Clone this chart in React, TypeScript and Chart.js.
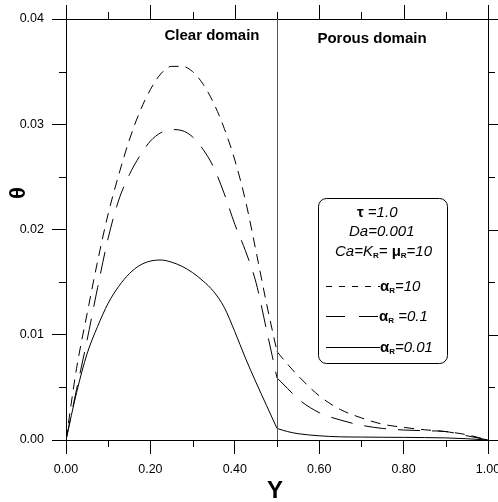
import React, { useEffect, useRef } from "react";
import { Chart, registerables } from "chart.js";

Chart.register(...registerables);

// ---- data ----
// clear domain positions (0 .. 0.5) and porous domain positions (0.5 .. 1.0)
const Y_CLEAR = [
  0, 0.025, 0.05, 0.075, 0.1, 0.125, 0.15, 0.175, 0.2, 0.225, 0.25, 0.275, 0.3, 0.325, 0.35, 0.375, 0.4,
  0.425, 0.45, 0.475, 0.5,
];
const Y_POROUS = [0.5, 0.525, 0.55, 0.6, 0.65, 0.7, 0.75, 0.8, 0.85, 0.9, 0.95, 1.0];

const THETA_A10_CLEAR = [
  0, 0.0068, 0.012, 0.017, 0.0215, 0.0252, 0.0285, 0.0312, 0.0333, 0.0348, 0.0355, 0.0355, 0.035, 0.0338,
  0.032, 0.0296, 0.0266, 0.0228, 0.018, 0.013, 0.0084,
];
const THETA_A10_POROUS = [0.0084, 0.0072, 0.0061, 0.0042, 0.0029, 0.0021, 0.0015, 0.0012, 0.00097, 0.0008, 0.0005, 0];

const THETA_A01_CLEAR = [
  0, 0.0048, 0.0095, 0.0145, 0.0192, 0.0228, 0.0252, 0.027, 0.0284, 0.0292, 0.0295, 0.0294, 0.0288, 0.0276,
  0.0259, 0.0234, 0.0205, 0.018, 0.015, 0.0105, 0.0059,
];
const THETA_A01_POROUS = [0.0059, 0.0049, 0.0039, 0.0026, 0.0019, 0.0014, 0.0011, 0.00095, 0.00088, 0.0008, 0.0004, 0];

const THETA_A001_CLEAR = [
  0, 0.0045, 0.0082, 0.0108, 0.013, 0.0146, 0.0158, 0.0166, 0.017, 0.0171, 0.0169, 0.0165, 0.0159, 0.0151,
  0.0141, 0.0126, 0.0103, 0.0078, 0.0055, 0.0033, 0.0011,
];
const THETA_A001_POROUS = [0.0011, 0.0008, 0.0006, 0.0004, 0.0003, 0.00028, 0.00026, 0.00025, 0.00023, 0.0002, 0.00012, 0];

const X_TICK_VALUES = [0, 0.2, 0.4, 0.6, 0.8, 1.0];
const X_TICK_LABELS = ["0.00", "0.20", "0.40", "0.60", "0.80", "1.00"];
const X_MINOR = [0.1, 0.3, 0.5, 0.7, 0.9];
const Y_TICK_VALUES = [0, 0.01, 0.02, 0.03, 0.04];
const Y_TICK_LABELS = ["0.00", "0.01", "0.02", "0.03", "0.04"];
const Y_MINOR = [0.005, 0.015, 0.025, 0.035];
const INTERFACE_Y = 0.5;

const FAMILY = 'Arial, "Liberation Sans", sans-serif';

type Run = { t: string; f: string; dy?: number };

function drawRuns(ctx: CanvasRenderingContext2D, x: number, y: number, runs: Run[]) {
  let cx = x;
  for (const r of runs) {
    ctx.font = r.f;
    ctx.fillText(r.t, cx, y + (r.dy || 0));
    cx += ctx.measureText(r.t).width;
  }
}

const decorPlugin = {
  id: "decor",
  afterDraw(chart: any) {
    const ctx: CanvasRenderingContext2D = chart.ctx;
    const { left, right, top, bottom } = chart.chartArea;
    const xs = chart.scales.x;
    const ys = chart.scales.y;
    ctx.save();
    ctx.strokeStyle = "#000";
    ctx.fillStyle = "#000";
    ctx.lineWidth = 1;
    const al = (v: number) => Math.round(v) + 0.5;
    ctx.beginPath();
    ctx.moveTo(left, al(top));
    ctx.lineTo(right + 0.5, al(top));
    ctx.moveTo(al(right), top);
    ctx.lineTo(al(right), bottom);
    for (const v of X_TICK_VALUES) {
      const px = al(xs.getPixelForValue(v));
      ctx.moveTo(px, top);
      ctx.lineTo(px, top - 14);
    }
    for (const v of X_MINOR) {
      const px = al(xs.getPixelForValue(v));
      ctx.moveTo(px, top);
      ctx.lineTo(px, top - 7);
      ctx.moveTo(px, bottom);
      ctx.lineTo(px, bottom + 7);
    }
    for (const v of Y_TICK_VALUES) {
      const py = al(ys.getPixelForValue(v));
      ctx.moveTo(right, py);
      ctx.lineTo(right + 14, py);
    }
    for (const v of Y_MINOR) {
      const py = al(ys.getPixelForValue(v));
      ctx.moveTo(left, py);
      ctx.lineTo(left - 7, py);
      ctx.moveTo(right, py);
      ctx.lineTo(right + 7, py);
    }
    ctx.stroke();

    // interface line
    ctx.beginPath();
    ctx.strokeStyle = "#555";
    const ix = al(xs.getPixelForValue(INTERFACE_Y));
    ctx.moveTo(ix, top);
    ctx.lineTo(ix, bottom);
    ctx.stroke();

    // domain labels
    ctx.fillStyle = "#000";
    ctx.textBaseline = "alphabetic";
    ctx.textAlign = "center";
    ctx.font = `bold 15px ${FAMILY}`;
    ctx.fillText("Clear domain", 212, 40);
    ctx.fillText("Porous domain", 372, 43);

    // axis titles
    ctx.font = `bold 24px ${FAMILY}`;
    ctx.fillText("Y", 275, 498);
    ctx.save();
    ctx.translate(18, 193);
    ctx.rotate(-Math.PI / 2);
    ctx.textBaseline = "middle";
    ctx.font = `bold 22px ${FAMILY}`;
    ctx.fillText("θ", 0, 1);
    ctx.restore();

    // legend box
    ctx.beginPath();
    ctx.strokeStyle = "#000";
    ctx.lineWidth = 1;
    (ctx as any).roundRect(318.5, 198.5, 129, 165, 8);
    ctx.stroke();

    ctx.textAlign = "left";
    ctx.textBaseline = "alphabetic";
    const it = `italic 15px ${FAMILY}`;
    const bd = `bold 15px ${FAMILY}`;
    const sub = `bold 8px ${FAMILY}`;
    drawRuns(ctx, 357, 217, [
      { t: "τ", f: bd },
      { t: " =1.0", f: it },
    ]);
    drawRuns(ctx, 349, 236, [{ t: "Da=0.001", f: it }]);
    drawRuns(ctx, 335, 256, [
      { t: "Ca=K", f: it },
      { t: "R", f: sub, dy: 2 },
      { t: "= ", f: it },
      { t: "μ", f: bd },
      { t: "R", f: sub, dy: 2 },
      { t: "=10", f: it },
    ]);
    drawRuns(ctx, 380, 291, [
      { t: "α", f: bd },
      { t: "R", f: sub, dy: 2 },
      { t: "=10", f: it },
    ]);
    drawRuns(ctx, 379, 321, [
      { t: "α", f: bd },
      { t: "R", f: sub, dy: 2 },
      { t: " =0.1", f: it },
    ]);
    drawRuns(ctx, 380, 352, [
      { t: "α", f: bd },
      { t: "R", f: sub, dy: 2 },
      { t: "=0.01", f: it },
    ]);
    const sample = (y: number, dash: number[]) => {
      ctx.beginPath();
      ctx.setLineDash(dash);
      ctx.moveTo(326, y + 0.5);
      ctx.lineTo(380, y + 0.5);
      ctx.stroke();
    };
    sample(286, [6, 7]);
    sample(316, [19, 14]);
    sample(347, []);
    ctx.setLineDash([]);
    ctx.restore();
  },
};

export default function App() {
  const ref = useRef<HTMLCanvasElement | null>(null);
  useEffect(() => {
    if (!ref.current) return;
    const mk = (xs: number[], vals: number[]) => xs.map((x, i) => ({ x, y: vals[i] }));
    const base = {
      borderColor: "#000",
      borderWidth: 1,
      pointRadius: 0,
      fill: false,
      cubicInterpolationMode: "monotone" as const,
    };
    const SHORT = [10, 7];
    const LONG = [22, 12];
    const chart = new Chart(ref.current, {
      type: "line",
      data: {
        datasets: [
          { ...base, label: "αR=10", data: mk(Y_CLEAR, THETA_A10_CLEAR), borderDash: SHORT },
          { ...base, label: "αR=10 porous", data: mk(Y_POROUS, THETA_A10_POROUS), borderDash: SHORT },
          { ...base, label: "αR=0.1", data: mk(Y_CLEAR, THETA_A01_CLEAR), borderDash: LONG },
          { ...base, label: "αR=0.1 porous", data: mk(Y_POROUS, THETA_A01_POROUS), borderDash: LONG },
          { ...base, label: "αR=0.01", data: mk(Y_CLEAR, THETA_A001_CLEAR) },
          { ...base, label: "αR=0.01 porous", data: mk(Y_POROUS, THETA_A001_POROUS) },
        ],
      },
      options: {
        responsive: false,
        animation: false,
        layout: { padding: { top: 19, right: 10, left: 0, bottom: 0 } },
        plugins: { legend: { display: false }, tooltip: { enabled: false }, title: { display: false } },
        scales: {
          x: {
            type: "linear",
            min: 0,
            max: 1,
            afterBuildTicks: (s: any) => {
              s.ticks = X_TICK_VALUES.map((v) => ({ value: v }));
            },
            ticks: {
              callback: (_v: any, i: number) => X_TICK_LABELS[i],
              font: { family: FAMILY, size: 12.5 },
              color: "#000",
              padding: 8,
              maxRotation: 0,
              autoSkip: false,
            },
            grid: { drawOnChartArea: false, tickLength: 14, color: "#000", lineWidth: 1 },
            border: { color: "#000", width: 1 },
            afterFit: (s: any) => {
              s.height = 62;
              s.paddingLeft = 0;
              s.paddingRight = 0;
            },
          },
          y: {
            type: "linear",
            min: 0,
            max: 0.04,
            afterBuildTicks: (s: any) => {
              s.ticks = Y_TICK_VALUES.map((v) => ({ value: v }));
            },
            ticks: {
              callback: (_v: any, i: number) => Y_TICK_LABELS[i],
              font: { family: FAMILY, size: 12.5 },
              color: "#000",
              padding: 8,
              autoSkip: false,
            },
            grid: { drawOnChartArea: false, tickLength: 14, color: "#000", lineWidth: 1 },
            border: { color: "#000", width: 1 },
            afterFit: (s: any) => {
              s.width = 66;
              s.paddingTop = 0;
              s.paddingBottom = 0;
            },
          },
        },
      },
      plugins: [decorPlugin],
    });
    return () => chart.destroy();
  }, []);
  return (
    <div style={{ position: "absolute", left: 0, top: 0, width: 498, height: 502, background: "#fff" }}>
      <canvas ref={ref} width={498} height={502} style={{ width: 498, height: 502, display: "block" }} />
    </div>
  );
}
